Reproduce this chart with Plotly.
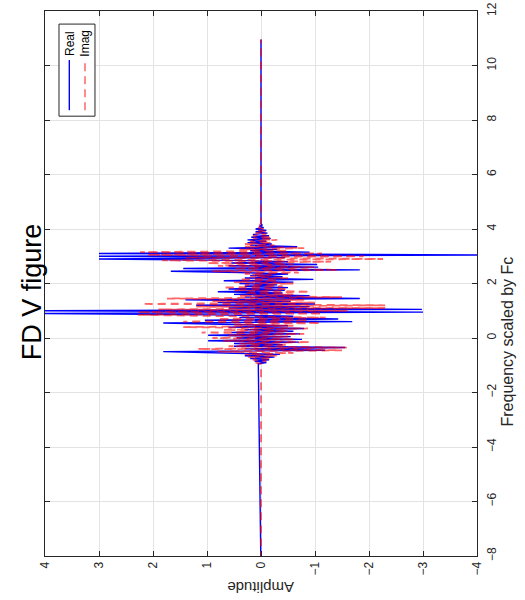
import numpy as np
import plotly.graph_objects as go

# ---- data ----
f_start = -0.95          # first active frequency sample
f_step = 0.05            # sample spacing (frequency scaled by Fc)
f_low_end = -8.6         # zero tail below
f_high_end = 10.95       # zero tail above

real_vals = [
    0.05, -0.1, 0.12, -0.15, 0.2, -0.25, 0.3, -0.35, 0.5, 1.81,
    -1.19, 0.3, -1.56, 0.5, -0.4, 0.5, -0.7, 0.98, -0.76, 0.45,
    -0.55, 0.98, -0.72, 0.55, -0.6, 0.3, -0.8, 0.6, -0.5, 1.0,
    1.81, -1.69, 1.04, -1.43, 0.4, -0.6, 0.9, 4.2, -3.0, 4.2,
    -2.98, 0.6, -0.9, 1.2, -1.0, 0.8, -0.55, 1.4, -1.83, 0.3,
    -0.9, 0.5, -0.4, 0.8, -0.44, 0.6, -0.5, 0.3, -0.3, 0.4,
    -0.6, 0.69, -0.97, 0.3, -0.4, 0.2, -0.5, 0.4, 1.67, -1.83,
    1.44, -1.06, 0.6, -1.04, 0.55, -0.5, 0.5, 3.0, -0.45, 3.0,
    -4.2, 3.0, -0.9, 0.2, -0.3, 0.6, -0.67, 0.2, -0.2, 0.25,
    -0.1, 0.25, -0.18, 0.18, -0.15, 0.15, -0.12, 0.1, -0.1, 0.1,
    -0.05, 0.03, -0.02, 0.0,
]

imag_vals = [
    0.0, 0.1, -0.1, 0.15, -0.2, 0.25, -0.3, 0.3, -0.6, 0.8,
    -1.5, 1.17, -1.59, 0.6, -0.5, 0.4, -0.9, 0.7, -0.6, 0.9,
    -0.5, 0.6, -0.8, 1.1, -0.5, 0.7, -0.87, 1.44, -0.6, 0.5,
    -1.1, 1.44, -0.87, 0.8, -1.2, 0.6, 2.28, -1.13, 2.28, -1.6,
    1.9, -2.3, 1.2, -2.3, 2.2, -1.0, 0.9, -0.8, 1.74, -1.5,
    0.4, -0.6, 0.3, -0.9, 0.5, -0.5, 0.7, -0.4, 0.3, -0.6,
    0.5, -0.3, 0.4, -0.5, 0.2, -0.2, 0.3, -0.7, 0.9, -1.43,
    0.5, -1.0, 0.8, -0.6, 1.0, -1.3, 1.83, -2.26, 1.4, -1.9,
    2.1, -1.13, 2.24, -0.5, 0.4, -0.8, 0.3, -0.25, 0.3, -0.2,
    0.2, -0.3, 0.15, -0.2, 0.15, -0.1, 0.1, -0.1, 0.05, -0.05,
    0.05, -0.03, 0.02, 0.0,
]

amp_ticks = [-4, -3, -2, -1, 0, 1, 2, 3, 4]
freq_ticks = [-8, -6, -4, -2, 0, 2, 4, 6, 8, 10, 12]

# ---- build ----
n = len(real_vals)
freq_active = np.round(f_start + f_step * np.arange(n), 4)
freq = np.concatenate([[f_low_end], freq_active, [f_high_end]])
real = np.concatenate([[0.0], real_vals, [0.0]])
imag = np.concatenate([[0.0], imag_vals, [0.0]])

FONT = "Liberation Sans, Arial, sans-serif"
AX = "#262626"

fig = go.Figure()
fig.add_trace(go.Scatter(x=real, y=freq, mode="lines", name="Real",
                         line=dict(color="#0000ff", width=1.4)))
fig.add_trace(go.Scatter(x=imag, y=freq, mode="lines", name="Imag",
                         line=dict(color="rgba(255,0,0,0.6)", width=1.8, dash="8px,5px")))

fig.update_layout(
    width=525, height=600,
    margin=dict(l=45, r=48, t=11, b=44, autoexpand=False),
    paper_bgcolor="white", plot_bgcolor="white",
    showlegend=False,
    font=dict(family=FONT, size=12, color=AX),
)
common = dict(showline=True, linecolor=AX, linewidth=1, mirror="ticks",
              ticks="inside", ticklen=5, tickcolor=AX,
              showgrid=True, gridcolor="#e3e3e3", gridwidth=1, zeroline=False,
              automargin=False, ticklabeloverflow="allow",
              tickfont=dict(size=12, color=AX))
fig.update_xaxes(range=[4, -4], tickvals=amp_ticks, tickangle=-90, **common)
fig.update_yaxes(range=[-8, 12], tickvals=freq_ticks, side="right", tickangle=-90,
                 ticklabelstandoff=4, **common)

# rotated texts
fig.add_annotation(text="FD V figure", xref="paper", yref="paper", x=-0.03, y=0.484,
                   textangle=-90, showarrow=False, xanchor="center", yanchor="middle",
                   font=dict(size=27, color="black", family=FONT))
fig.add_annotation(text="Amplitude", xref="paper", yref="paper", x=0.5, y=-0.059,
                   textangle=180, showarrow=False, xanchor="center", yanchor="middle",
                   font=dict(size=15, color=AX, family=FONT))
fig.add_annotation(text="Frequency scaled by Fc", xref="paper", yref="paper", x=1.07, y=0.394,
                   textangle=-90, showarrow=False, xanchor="center", yanchor="middle",
                   font=dict(size=16, color=AX, family=FONT))

# legend box (rotated)
fig.add_shape(type="rect", xref="paper", yref="paper", x0=0.0324, x1=0.1157, y0=0.807, y1=0.976,
              line=dict(color=AX, width=1), fillcolor="white", layer="above")
fig.add_shape(type="line", xref="paper", yref="paper", x0=0.0563, x1=0.0563, y0=0.818, y1=0.910,
              line=dict(color="#0000ff", width=1.4), layer="above")
fig.add_shape(type="line", xref="paper", yref="paper", x0=0.0926, x1=0.0926, y0=0.818, y1=0.910,
              line=dict(color="rgba(255,0,0,0.45)", width=2, dash="8px,5px"), layer="above")
fig.add_annotation(text="Real", xref="paper", yref="paper", x=0.0563, y=0.94,
                   textangle=-90, showarrow=False, xanchor="center", yanchor="middle",
                   font=dict(size=12, color="black", family=FONT))
fig.add_annotation(text="Imag", xref="paper", yref="paper", x=0.0926, y=0.94,
                   textangle=-90, showarrow=False, xanchor="center", yanchor="middle",
                   font=dict(size=12, color="black", family=FONT))

fig.write_html("out.html", config={"displayModeBar": False},
               post_script="document.body.style.margin='0';document.body.style.overflow='hidden';")
